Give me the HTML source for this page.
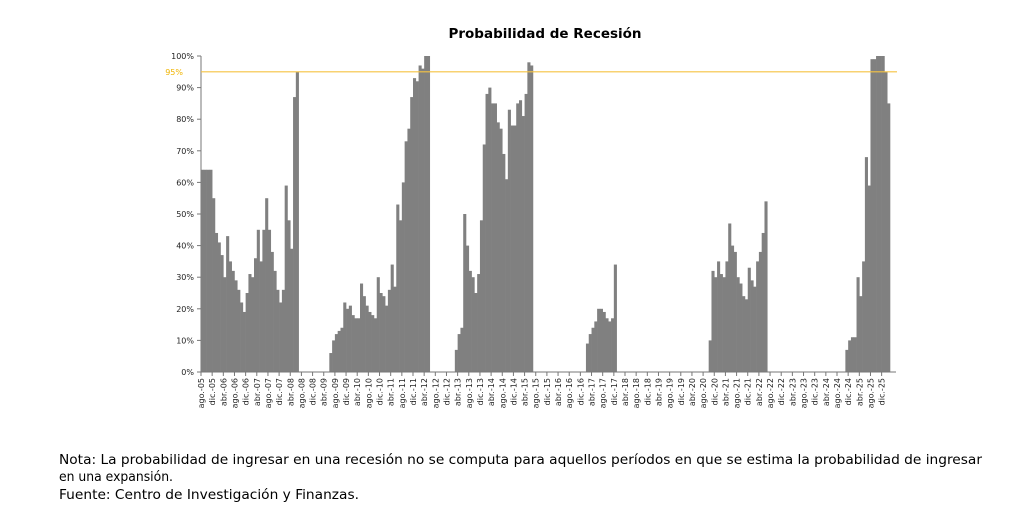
<!DOCTYPE html>
<html><head><meta charset="utf-8"><style>
html,body{margin:0;padding:0;background:#fff;}
svg{display:block;}
</style></head><body>
<svg id="chart" width="1023" height="519" viewBox="0 0 1023 519" xmlns="http://www.w3.org/2000/svg">
<text x="545" y="38" text-anchor="middle" font-family="DejaVu Sans, sans-serif" font-weight="bold" font-size="13.5" fill="#000">Probabilidad de Recesión</text>
<g id="yaxis"></g>
<g id="bars"></g>
<g id="xaxis"></g>
<line id="thr" x1="201" x2="897" stroke="#f5c342" stroke-width="1.2"/>
<text id="thrlbl" x="183" text-anchor="end" font-family="DejaVu Sans, sans-serif" font-size="8" fill="#f0b400">95%</text>
<text x="59" y="464" font-family="DejaVu Sans, sans-serif" font-size="13.5" textLength="923" lengthAdjust="spacingAndGlyphs">Nota: La probabilidad de ingresar en una recesión no se computa para aquellos períodos en que se estima la probabilidad de ingresar</text>
<text x="59" y="481" font-family="DejaVu Sans, sans-serif" font-size="13.5" textLength="114" lengthAdjust="spacingAndGlyphs">en una expansión.</text>
<text x="59" y="499" font-family="DejaVu Sans, sans-serif" font-size="13.5" textLength="300" lengthAdjust="spacingAndGlyphs">Fuente: Centro de Investigación y Finanzas.</text>
</svg>
<script>
// Monthly series starting ago-05; null = not computed
const startYear = 2005, startMonth = 7; // 0-based month (agosto)
const monthNames = ["ene","feb","mar","abr","may","jun","jul","ago","sep","oct","nov","dic"];
const seg1Start = 0;
const seg1 = [64,64,64,64,55,44,41,37,30,43,35,32,29,26,22,19,25,31,30,36,45,35,45,55,45,38,32,26,22,26,59,48,39,87,95];
const seg2Start = 46;
const seg2 = [6,10,12,13,14,22,20,21,18,17,17,28,24,21,19,18,17,30,25,24,21,26,34,27,53,48,60,73,77,87,93,92,97,96,100,100];
const seg3Start = 91;
const seg3 = [7,12,14,50,40,32,30,25,31,48,72,88,90,85,85,79,77,69,61,83,78,78,85,86,81,88,98,97];
const seg4Start = 138;
const seg4 = [9,12,14,16,20,20,19,17,16,17,34];
const seg5Start = 182;
const seg5 = [10,32,30,35,31,30,35,47,40,38,30,28,24,23,33,29,27,35,38,44,54];
const seg6Start = 231;
const seg6 = [7,10,11,11,30,24,35,68,59,99,99,100,100,100,95,85];
const totalMonths = 247;
const yTicks = [0,10,20,30,40,50,60,70,80,90,100];
const threshold = 95;

const X0 = 201, X1 = 890, Y0 = 372, Y1 = 56;
const mw = (X1 - X0) / totalMonths;
const xs = i => X0 + i * mw;
const ys = v => Y0 - (v / 100) * (Y0 - Y1);
const NS = "http://www.w3.org/2000/svg";
function mk(tag, attrs, parent){const e=document.createElementNS(NS,tag);for(const k in attrs)e.setAttribute(k,attrs[k]);parent.appendChild(e);return e;}

const values = new Array(totalMonths).fill(null);
[[seg1Start,seg1],[seg2Start,seg2],[seg3Start,seg3],[seg4Start,seg4],[seg5Start,seg5],[seg6Start,seg6]].forEach(([s,a])=>a.forEach((v,k)=>{values[s+k]=v;}));

const bars = document.getElementById('bars');
values.forEach((v,i)=>{
  if(v===null) return;
  const r = mk('rect',{x:xs(i).toFixed(2),y:ys(v).toFixed(2),width:(mw+0.3).toFixed(2),height:(Y0-ys(v)).toFixed(2),fill:'#808080'},bars);
  
  
});

const ya = document.getElementById('yaxis');
const yl = mk('line',{x1:X0,x2:X0,y1:Y1,y2:Y0,stroke:'#777','stroke-width':1},ya);


yTicks.forEach(t=>{
  mk('line',{x1:X0-4,x2:X0,y1:ys(t),y2:ys(t),stroke:'#777','stroke-width':1},ya);
  const tx = mk('text',{x:194,y:ys(t)+3,'text-anchor':'end','font-family':'DejaVu Sans, sans-serif','font-size':'8',fill:'#222'},ya);
  tx.textContent = t+'%';
  
  
});

const xa = document.getElementById('xaxis');
const xl = mk('line',{x1:X0,x2:X1+6,y1:Y0,y2:Y0,stroke:'#777','stroke-width':1},xa);


for(let i=0;i<totalMonths;i+=4){
  const x = xs(i);
  mk('line',{x1:x,x2:x,y1:Y0,y2:Y0+4,stroke:'#777','stroke-width':1},xa);
  const m = (startMonth+i)%12, y = startYear + Math.floor((startMonth+i)/12);
  const tx = mk('text',{transform:`translate(${(x+3).toFixed(2)},${Y0+6}) rotate(-90)`,'text-anchor':'end','font-family':'DejaVu Sans, sans-serif','font-size':'8',fill:'#222'},xa);
  tx.textContent = monthNames[m]+'.-'+String(y%100).padStart(2,'0');
  
  
}
const thr = document.getElementById('thr');
thr.setAttribute('y1', ys(threshold)); thr.setAttribute('y2', ys(threshold));
document.getElementById('thrlbl').setAttribute('y', ys(threshold)+3);
</script>
</body></html>
